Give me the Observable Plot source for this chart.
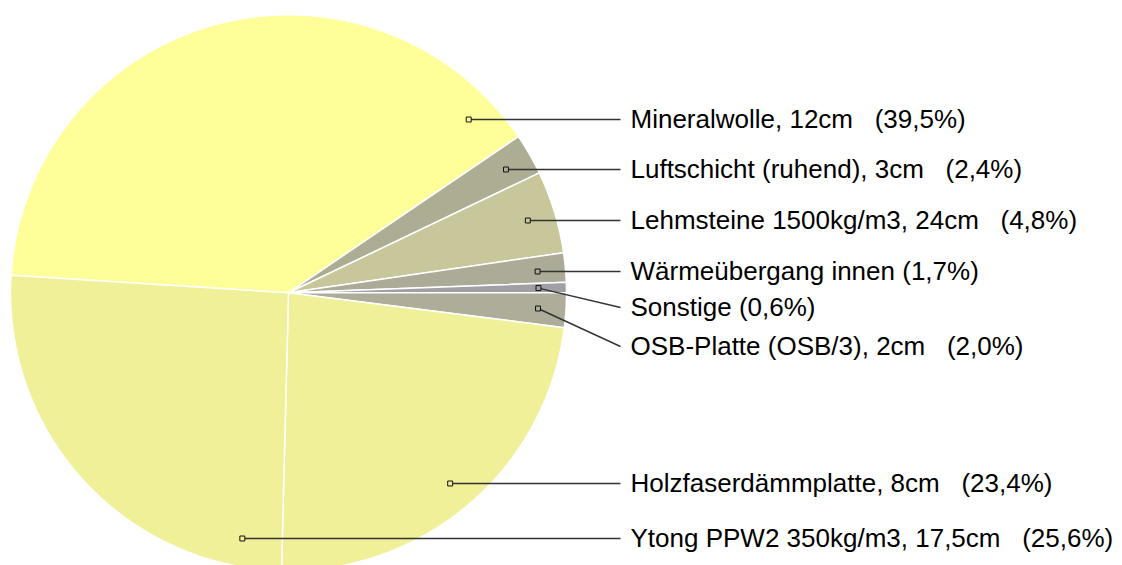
<!DOCTYPE html>
<html><head><meta charset="utf-8">
<script src="https://cdn.jsdelivr.net/npm/d3@7"></script>
<script src="https://cdn.jsdelivr.net/npm/@observablehq/plot@0.6"></script>
<style>body{margin:0;overflow:hidden;background:#fff}</style>
</head><body><div id="chart"></div>
<script>
// Data (clockwise order, as in the legend)
const labels = [
  "Mineralwolle, 12cm  (39,5%)",
  "Luftschicht (ruhend), 3cm  (2,4%)",
  "Lehmsteine 1500kg/m3, 24cm  (4,8%)",
  "Wärmeübergang innen (1,7%)",
  "Sonstige (0,6%)",
  "OSB-Platte (OSB/3), 2cm  (2,0%)",
  "Holzfaserdämmplatte, 8cm  (23,4%)",
  "Ytong PPW2 350kg/m3, 17,5cm  (25,6%)"
];
const values = [39.5, 2.4, 4.8, 1.7, 0.6, 2.0, 23.4, 25.6];
const colors = ["#FFFF99", "#ADAD94", "#C8C79B", "#ABAB97", "#A0A0A4", "#ADAD99", "#F0F099", "#F0F099"];

// Layout
const W = 1122, H = 565;
const cx = 288, cy = 292.3, R = 278, rm = 250;
const lineEndX = 620, textX = 630;
const labelY = [119, 169, 220, 271, 307, 346, 483, 538];
// Sonstige / OSB boundary sits at 3 o'clock
const startAngle = 3.6 * d3.sum(values.slice(0, 5));

const rad = d => d * Math.PI / 180;
const px = (r, a) => cx + r * Math.cos(rad(a));
const py = (r, a) => cy - r * Math.sin(rad(a));

const poly = [];
const markers = [];
let a = startAngle;
values.forEach((v, i) => {
  const a0 = a, a1 = a - v * 3.6;
  a = a1;
  const label = labels[i];
  poly.push({label, color: colors[i], x: cx, y: cy});
  const n = Math.max(2, Math.ceil((a0 - a1) / 0.5));
  for (let k = 0; k <= n; k++) {
    const t = a0 - (a0 - a1) * k / n;
    poly.push({label, color: colors[i], x: px(R, t), y: py(R, t)});
  }
  poly.push({label, color: colors[i], x: cx, y: cy});
  // marker angle: on the label's level if possible, else mid-angle
  const inRange = t => { let u = t; while (u < a1) u += 360; while (u >= a1 + 360) u -= 360; return u <= a0 ? u : null; };
  let ma = null;
  const s = (cy - labelY[i]) / rm;
  if (Math.abs(s) <= 1) {
    const t1 = Math.asin(s) * 180 / Math.PI;
    ma = inRange(t1);
    if (ma === null) ma = inRange(180 - t1);
  }
  if (ma === null) ma = (a0 + a1) / 2;
  markers.push({label, color: colors[i], mx: px(rm, ma), my: py(rm, ma), ly: labelY[i]});
});

const chart = Plot.plot({
  width: W, height: H, margin: 0,
  x: {domain: [0, W], range: [0, W], axis: null},
  y: {domain: [0, H], range: [0, H], axis: null},
  marks: [
    Plot.line(poly, {x: "x", y: "y", z: "label", fill: "color", stroke: "white", strokeWidth: 1.5, strokeLinejoin: "round"}),
    Plot.link(markers, {x1: "mx", y1: "my", x2: () => lineEndX, y2: "ly", stroke: "#333", strokeWidth: 1.4}),
    Plot.dot(markers, {x: "mx", y: "my", symbol: "square", r: 2.8, fill: "color", stroke: "#111", strokeWidth: 1}),
    Plot.text(markers, {x: () => textX, y: "ly", text: d => d.label.replace(/  /g, " \u00A0\u00A0"), textAnchor: "start", fontSize: 26, fontFamily: "Liberation Sans, Arial, sans-serif", fill: "#000"})
  ]
});
document.getElementById("chart").appendChild(chart);
</script>
</body></html>
